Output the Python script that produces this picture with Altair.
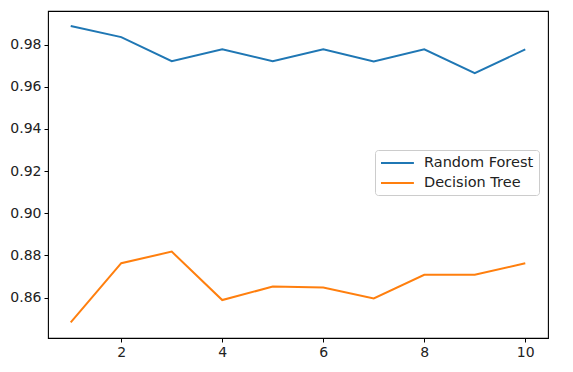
import altair as alt
import pandas as pd

runs = [1, 2, 3, 4, 5, 6, 7, 8, 9, 10]
random_forest = [0.9889, 0.9836, 0.9722, 0.9778, 0.9722, 0.9778, 0.9720, 0.9778, 0.9665, 0.9778]
decision_tree = [0.8482, 0.8763, 0.8818, 0.8588, 0.8652, 0.8648, 0.8596, 0.8708, 0.8708, 0.8763]
series_names = ["Random Forest", "Decision Tree"]
series_colors = ["#1f77b4", "#ff7f0e"]
x_ticks = [2, 4, 6, 8, 10]
y_ticks = [0.86, 0.88, 0.90, 0.92, 0.94, 0.96, 0.98]

rows = []
for i, r in enumerate(runs):
    rows.append({"run": r, "model": series_names[0], "acc": random_forest[i], "order": 0})
    rows.append({"run": r, "model": series_names[1], "acc": decision_tree[i], "order": 1})
df = pd.DataFrame(rows)

chart = (
    alt.Chart(df)
    .mark_line(strokeWidth=2)
    .encode(
        x=alt.X(
            "run:Q",
            scale=alt.Scale(domain=[0.55, 10.45], nice=False, zero=False),
            axis=alt.Axis(values=x_ticks, title=None, grid=False, format="d"),
        ),
        y=alt.Y(
            "acc:Q",
            scale=alt.Scale(domain=[0.8408, 0.9960], nice=False, zero=False),
            axis=alt.Axis(values=y_ticks, title=None, grid=False, format=".2f"),
        ),
        color=alt.Color(
            "model:N",
            scale=alt.Scale(domain=series_names, range=series_colors),
            legend=alt.Legend(
                title=None,
                orient="none",
                legendX=327,
                legendY=139,
                symbolType="M-1,0H3.7",
                symbolSize=196,
                symbolStrokeWidth=2,
                labelOffset=28,
                padding=5,
                rowPadding=5,
                fillColor="white",
                strokeColor="#cccccc",
                cornerRadius=3,
                labelFontSize=14.5,
                labelFont="DejaVu Sans",
                labelColor="#222222",
            ),
        ),
        order="order:Q",
    )
    .properties(
        width=500,
        height=327,
        autosize=alt.AutoSizeParams(type="none"),
        padding={"left": 40, "top": 3, "right": 17, "bottom": 25},
    )
    .configure_view(stroke="#000000", strokeWidth=1.1)
    .configure_axis(
        domain=False,
        tickColor="#000000",
        tickSize=4,
        tickWidth=1,
        labelFont="DejaVu Sans",
        labelFontSize=14,
        labelColor="#222222",
        labelPadding=3,
    )
)

chart.save("out.html", embed_options={"renderer": "svg", "actions": False})
